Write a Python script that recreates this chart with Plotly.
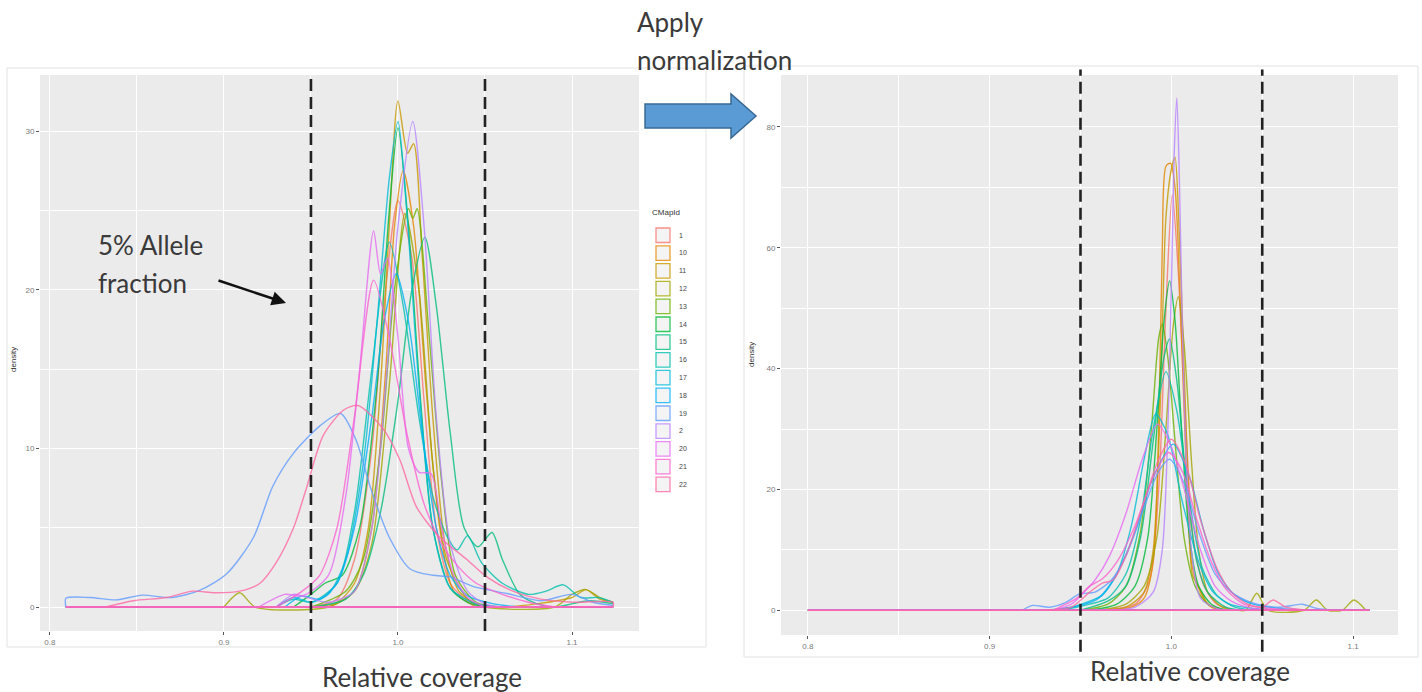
import plotly.graph_objects as go

# ---------------------------------------------------------------- data
cmap_ids = ["1", "10", "11", "12", "13", "14", "15", "16", "17", "18", "19",
            "2", "20", "21", "22"]
cmap_colors = ["#F8766D", "#E58700", "#C99800", "#A3A500", "#6BB100", "#00BA38",
               "#00BF7D", "#00C0AF", "#00BCD8", "#00B0F6", "#619CFF", "#B983FF",
               "#E76BF3", "#FD61D1", "#FF67A4"]

x_ticks = [0.8, 0.9, 1.0, 1.1]
thresholds = [0.95, 1.05]           # 5% allele fraction bounds

# relative coverage before normalization: density curves (x, density)
before_range = (0.8092, 1.1236)
before = {
    "1": [(0.95, 0), (0.965, 0.5), (0.975, 3), (0.985, 10), (0.992, 19), (1.0, 25.6),
          (1.008, 22), (1.015, 13), (1.022, 5), (1.03, 1.5), (1.04, 0.4), (1.05, 0)],
    "10": [(0.96, 0), (0.975, 1), (0.985, 5), (0.993, 15), (0.998, 24), (1.003, 27.5),
           (1.009, 24), (1.016, 14), (1.024, 5), (1.032, 1), (1.045, 0)],
    "11": [(0.95, 0), (0.965, 0.3), (0.975, 1.5), (0.983, 5), (0.99, 14), (0.995, 24),
           (1.0, 31.9), (1.0055, 28.6), (1.009, 29.2), (1.014, 22), (1.02, 12),
           (1.027, 4), (1.035, 1), (1.045, 0.2), (1.06, 0), (1.1, 0.6), (1.108, 1.1),
           (1.116, 0.5), (1.1236, 0.3)],
    "12": [(0.9, 0), (0.909, 0.9), (0.918, 0), (0.96, 0), (0.975, 1), (0.985, 4),
           (0.995, 14), (1.004, 24.8), (1.012, 20), (1.02, 9), (1.028, 3), (1.04, 0.5),
           (1.05, 0), (1.09, 0), (1.1, 0.8), (1.108, 1.1), (1.116, 0.6), (1.1236, 0.3)],
    "13": [(0.95, 0), (0.97, 1), (0.98, 3), (0.99, 10), (0.998, 20), (1.006, 25.1),
           (1.0085, 24.5), (1.011, 25.1), (1.018, 17), (1.025, 8), (1.033, 2),
           (1.045, 0.3), (1.06, 0)],
    "14": [(0.94, 0), (0.95, 0.8), (0.958, 1.5), (0.968, 2), (0.978, 5), (0.988, 14),
           (0.995, 25), (1.0, 30.2), (1.006, 24), (1.013, 13), (1.02, 5), (1.03, 1.2),
           (1.04, 0.3), (1.05, 0)],
    "15": [(0.95, 0), (0.97, 0.5), (0.98, 2), (0.99, 6), (1.0, 13), (1.008, 20),
           (1.0155, 23.3), (1.022, 19), (1.03, 11), (1.038, 5), (1.046, 3.8),
           (1.054, 4.7), (1.06, 3), (1.07, 0.8), (1.08, 0.2), (1.09, 0), (1.11, 0.4),
           (1.1236, 0.2)],
    "16": [(0.93, 0), (0.94, 0.5), (0.95, 0.3), (0.965, 1.5), (0.975, 6), (0.985, 15),
           (0.995, 23), (1.003, 19), (1.012, 12), (1.02, 7), (1.028, 4.5), (1.034, 3.6),
           (1.04, 4.5), (1.048, 2.8), (1.06, 1.5), (1.075, 0.8), (1.085, 1.0),
           (1.095, 1.4), (1.105, 0.6), (1.115, 0.6), (1.1236, 0.3)],
    "17": [(0.93, 0), (0.94, 0.6), (0.95, 0.3), (0.96, 0.8), (0.97, 3), (0.98, 9),
           (0.988, 18), (0.995, 27), (1.0, 30.6), (1.005, 25), (1.012, 14), (1.02, 5),
           (1.03, 1.2), (1.045, 0.2), (1.06, 0)],
    "18": [(0.935, 0), (0.945, 0.7), (0.955, 0.5), (0.965, 1.5), (0.975, 5), (0.985, 12),
           (0.992, 18), (0.999, 21), (1.006, 18), (1.014, 11), (1.022, 5), (1.03, 2),
           (1.04, 0.7), (1.055, 0.2), (1.07, 0)],
    "19": [(0.8092, 0), (0.8092, 0.55), (0.823, 0.6), (0.838, 0.45), (0.853, 0.75),
           (0.87, 0.6), (0.886, 1.05), (0.9016, 2.1), (0.917, 4.4), (0.928, 7.6),
           (0.94, 9.7), (0.955, 11.4), (0.967, 12.2), (0.976, 10.5), (0.984, 7.6),
           (0.995, 4.4), (1.007, 2.4), (1.02, 2.0), (1.03, 1.9), (1.043, 1.3),
           (1.0626, 0.85), (1.082, 0.4), (1.1, 0.8), (1.112, 0.3), (1.1236, 0.1)],
    "2": [(0.93, 0), (0.94, 0.8), (0.948, 0.6), (0.96, 0.3), (0.975, 1), (0.985, 5),
          (0.993, 14), (1.0, 24), (1.0085, 30.6), (1.015, 24), (1.022, 12), (1.03, 4),
          (1.04, 1), (1.05, 0.2), (1.06, 0)],
    "20": [(0.92, 0), (0.935, 0.8), (0.945, 0.7), (0.96, 2), (0.97, 7), (0.978, 15),
           (0.986, 23.7), (0.99, 21), (0.994, 22), (1.0, 17), (1.006, 10), (1.012, 8.5),
           (1.019, 8.4), (1.025, 5), (1.032, 2), (1.04, 0.6), (1.05, 0)],
    "21": [(0.93, 0), (0.945, 1), (0.955, 2), (0.965, 5), (0.975, 12), (0.986, 20.6),
           (0.995, 17), (1.005, 11), (1.015, 6.5), (1.025, 4), (1.035, 2.5), (1.045, 1.5),
           (1.06, 0.8), (1.075, 0.3), (1.09, 0)],
    "22": [(0.832, 0), (0.848, 0.4), (0.867, 0.6), (0.882, 1.0), (0.8946, 0.9),
           (0.909, 1.0), (0.9207, 1.5), (0.93, 2.8), (0.94, 5.0), (0.9477, 7.6),
           (0.957, 10.8), (0.9686, 12.4), (0.977, 12.7), (0.991, 11.3), (1.001, 9.3),
           (1.0107, 6.3), (1.024, 4.4), (1.0396, 3.0), (1.051, 1.9), (1.066, 1.0),
           (1.082, 0.5), (1.101, 0.3), (1.1236, 0.3), (1.1236, 0)],
}

# relative coverage after normalization
after_range = (0.8, 1.109)
after = {
    "1": [(0.96, 0), (0.98, 1), (0.988, 5), (0.993, 20), (0.997, 50), (1.0005, 68.8),
          (1.004, 55), (1.008, 30), (1.012, 12), (1.018, 4), (1.025, 1), (1.035, 0)],
    "10": [(0.96, 0), (0.978, 0.5), (0.985, 2), (0.99, 8), (0.993, 30), (0.995, 60),
           (0.997, 73.5), (0.9995, 74), (1.002, 70), (1.005, 50), (1.008, 25),
           (1.011, 8), (1.016, 3), (1.022, 0.5), (1.03, 0)],
    "11": [(0.96, 0), (0.975, 0.5), (0.985, 3), (0.99, 10), (0.994, 35), (0.997, 65),
           (1.0, 73), (1.002, 75), (1.004, 65), (1.007, 40), (1.01, 15), (1.0115, 6),
           (1.016, 3.3), (1.02, 1), (1.03, 0)],
    "12": [(0.96, 0), (0.975, 1), (0.985, 4), (0.992, 12), (0.997, 30), (1.001, 47),
           (1.0038, 51.9), (1.007, 44), (1.011, 25), (1.015, 10), (1.02, 3),
           (1.028, 0.5), (1.036, 0), (1.041, 0), (1.047, 2.8), (1.053, 0), (1.073, 0),
           (1.0797, 1.7), (1.086, 0), (1.094, 0), (1.1005, 1.7), (1.107, 0)],
    "13": [(0.95, 0), (0.965, 1), (0.975, 4), (0.983, 13), (0.989, 30), (0.993, 45),
           (0.995, 47.4), (0.998, 42), (1.002, 28), (1.007, 12), (1.013, 4), (1.02, 1),
           (1.03, 0)],
    "14": [(0.955, 0), (0.97, 1), (0.98, 4), (0.987, 12), (0.992, 30), (0.996, 48),
           (0.999, 54.5), (1.002, 48), (1.006, 28), (1.01, 12), (1.015, 4), (1.022, 1),
           (1.03, 0)],
    "15": [(0.95, 0), (0.965, 1.5), (0.975, 4), (0.983, 12), (0.99, 28), (0.996, 42),
           (0.999, 44.9), (1.003, 38), (1.008, 22), (1.014, 8), (1.02, 3), (1.03, 0.5),
           (1.04, 0)],
    "16": [(0.94, 0), (0.955, 1), (0.965, 2), (0.975, 6), (0.983, 15), (0.99, 30),
           (0.997, 39.5), (1.003, 33), (1.01, 18), (1.017, 7), (1.025, 2.5), (1.035, 0.5),
           (1.045, 0)],
    "17": [(0.93, 0), (0.945, 0.5), (0.955, 1.5), (0.962, 2.5), (0.97, 6), (0.978, 14),
           (0.985, 25), (0.9914, 32.5), (0.998, 29), (1.006, 18), (1.015, 8), (1.023, 3),
           (1.032, 1), (1.045, 0.3), (1.06, 0)],
    "18": [(0.935, 0), (0.95, 0.8), (0.96, 2), (0.97, 6), (0.98, 13), (0.99, 22),
           (1.001, 27.5), (1.01, 22), (1.018, 13), (1.026, 6), (1.035, 2.5), (1.045, 1),
           (1.06, 0.3), (1.075, 0)],
    "19": [(0.918, 0), (0.9236, 0.8), (0.933, 0.5), (0.942, 1.3), (0.9495, 2.7),
           (0.958, 3), (0.967, 5), (0.975, 9), (0.985, 17), (0.993, 23), (0.999, 25),
           (1.007, 21), (1.015, 13), (1.024, 6), (1.033, 3), (1.042, 1.5), (1.05, 0.8),
           (1.06, 0.5), (1.072, 1), (1.08, 0.3), (1.09, 0)],
    "2": [(0.96, 0), (0.98, 0.5), (0.99, 3), (0.995, 10), (0.999, 40), (1.0015, 75),
          (1.003, 84.8), (1.0045, 70), (1.007, 35), (1.011, 10), (1.016, 2),
          (1.025, 0.3), (1.035, 0)],
    "20": [(0.935, 0), (0.945, 1), (0.952, 3), (0.958, 5), (0.966, 9), (0.975, 16),
           (0.984, 25), (0.9924, 30.8), (1.0, 27), (1.008, 19), (1.016, 10), (1.024, 4),
           (1.033, 1.5), (1.045, 0.3), (1.06, 0)],
    "21": [(0.935, 0), (0.948, 2), (0.955, 4), (0.962, 5.2), (0.97, 8), (0.98, 14),
           (0.99, 22), (0.9985, 26.1), (1.006, 23), (1.014, 15), (1.022, 8), (1.03, 3.5),
           (1.04, 1), (1.055, 0.3), (1.07, 0)],
    "22": [(0.93, 0), (0.945, 0.5), (0.955, 3), (0.962, 4.5), (0.968, 5), (0.975, 9),
           (0.985, 18), (0.993, 25), (1.0, 28.3), (1.008, 24), (1.016, 15), (1.025, 7),
           (1.033, 3), (1.042, 1), (1.05, 0.5), (1.056, 1.7), (1.063, 0.5), (1.075, 0)],
}

# ---------------------------------------------------------------- figure
W, H = 1422, 692


def px(x):
    return x / W


def py(y):
    return 1 - y / H


fig = go.Figure()


def add_panel(curves, span, xa, ya):
    lo, hi = span
    for cid, col in zip(cmap_ids, cmap_colors):
        pts = curves[cid]
        xs = [p[0] for p in pts] + [None, lo, hi]
        ys = [p[1] for p in pts] + [None, 0, 0]
        fig.add_trace(go.Scatter(
            x=xs, y=ys, mode="lines", name=cid, showlegend=False,
            connectgaps=False, opacity=0.8, hoverinfo="skip",
            line=dict(color=col, width=1.4, shape="spline", smoothing=0.75),
            xaxis=xa, yaxis=ya))


add_panel(before, before_range, "x", "y")
add_panel(after, after_range, "x2", "y2")

tickfont = dict(family="Liberation Sans, Arial, sans-serif", size=8, color="#7a7a7a")


def xaxis(domain, rng, anchor):
    return dict(domain=domain, range=rng, anchor=anchor, tickvals=x_ticks,
                ticktext=[f"{v:.1f}" for v in x_ticks],
                showgrid=True, gridcolor="white", gridwidth=1.3,
                minor=dict(tickvals=[0.85, 0.95, 1.05], showgrid=True,
                           gridcolor="white", gridwidth=0.6, ticks=""),
                ticks="outside", ticklen=3, tickcolor="#555", tickfont=tickfont,
                zeroline=False, showline=False, fixedrange=True)


def yaxis(domain, rng, anchor, major, minor):
    return dict(domain=domain, range=rng, anchor=anchor, tickvals=major,
                showgrid=True, gridcolor="white", gridwidth=1.3,
                minor=dict(tickvals=minor, showgrid=True, gridcolor="white",
                           gridwidth=0.6, ticks=""),
                ticks="outside", ticklen=3, tickcolor="#555", tickfont=tickfont,
                zeroline=False, showline=False, fixedrange=True)


fig.update_layout(
    width=W, height=H, margin=dict(l=0, r=0, t=0, b=0),
    paper_bgcolor="white", plot_bgcolor="#EBEBEB", showlegend=False,
    xaxis=xaxis([px(40), px(639)], [0.7943, 1.1385], "y"),
    yaxis=yaxis([py(631), py(75)], [-1.51, 33.53], "x", [0, 10, 20, 30], [5, 15, 25]),
    xaxis2=xaxis([px(781), px(1398)], [0.7852, 1.1247], "y2"),
    yaxis2=yaxis([py(635), py(75)], [-4.1, 88.6], "x2", [0, 20, 40, 60, 80],
                 [10, 30, 50, 70]),
)

shapes = []
# faint frames around the two ggplot images
shapes.append(dict(type="rect", xref="paper", yref="paper", x0=px(7), x1=px(706),
                   y0=py(647), y1=py(68), line=dict(color="#E2E2E2", width=1)))
shapes.append(dict(type="rect", xref="paper", yref="paper", x0=px(744), x1=px(1418),
                   y0=py(657), y1=py(66), line=dict(color="#E2E2E2", width=1)))

# threshold lines
for t in thresholds:
    shapes.append(dict(type="line", xref="x", yref="y domain", x0=t, x1=t, y0=0, y1=1,
                       line=dict(color="#222222", width=2.6, dash="12px,6px")))
    shapes.append(dict(type="line", xref="x2", yref="y2 domain", x0=t, x1=t,
                       y0=-0.03, y1=1.01,
                       line=dict(color="#222222", width=2.6, dash="12px,6px")))

# "Apply normalization" block arrow
arrow = [(645, 104), (731, 104), (731, 94), (756, 116), (731, 138), (731, 128),
         (645, 128)]
path = "M " + " L ".join(f"{px(a):.5f},{py(b):.5f}" for a, b in arrow) + " Z"
shapes.append(dict(type="path", xref="paper", yref="paper", path=path,
                   fillcolor="#5B9BD5", line=dict(color="#3A6A94", width=1.5)))

# legend keys
key_top, key_step = 227, 17.8
for i, col in enumerate(cmap_colors):
    y0 = key_top + i * key_step
    shapes.append(dict(type="rect", xref="paper", yref="paper",
                       x0=px(656), x1=px(670), y0=py(y0 + 15.5), y1=py(y0 + 1),
                       fillcolor="#F2F2F2", line=dict(color=col, width=1.3),
                       opacity=0.8))
fig.update_layout(shapes=shapes)

big = dict(family="Lato, Open Sans, sans-serif", size=26, color="#3a3a3a")
ann = []


def text(x, y, s, font, xanchor="left", **kw):
    ann.append(dict(xref="paper", yref="paper", x=px(x), y=py(y), text=s,
                    showarrow=False, xanchor=xanchor, yanchor="middle", font=font, **kw))


text(635, 22, "Apply", big)
text(635, 60, "normalization", big)
text(96, 245, "5% Allele", big)
text(96, 283, "fraction", big)
text(422, 677, "Relative coverage", big, xanchor="center")
text(1190, 671, "Relative coverage", big, xanchor="center")

small = dict(family="Liberation Sans, Arial, sans-serif", size=8, color="#333")
text(13, 360, "density", small, xanchor="center", textangle=-90)
text(752, 355, "density", small, xanchor="center", textangle=-90)

text(650, 212, "CMapId", dict(family="Liberation Sans, Arial, sans-serif", size=8,
                              color="#333"))
for i, cid in enumerate(cmap_ids):
    text(677, key_top + i * key_step + 8, cid,
         dict(family="Liberation Sans, Arial, sans-serif", size=7, color="#444"))

# pointer to the threshold line
ann.append(dict(xref="paper", yref="paper", x=px(286), y=py(303),
                axref="pixel", ayref="pixel", ax=-69, ay=-23, text="",
                showarrow=True, arrowhead=2, arrowsize=1.1, arrowwidth=2.6,
                arrowcolor="#111"))

fig.update_layout(annotations=ann)
fig.write_html("out.html")
